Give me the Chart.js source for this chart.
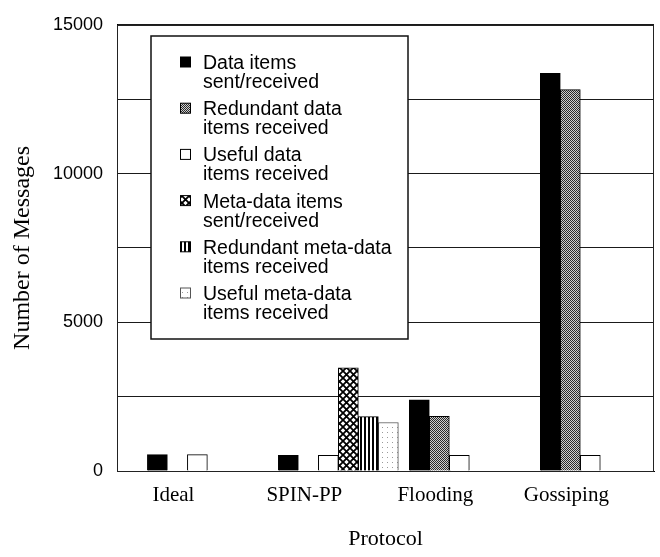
<!DOCTYPE html>
<html>
<head>
<meta charset="utf-8">
<script src="https://cdn.jsdelivr.net/npm/chart.js@4.4.1/dist/chart.umd.min.js"></script>
<style>
html,body{margin:0;padding:0;background:#fff;}
#wrap{width:660px;height:557px;position:relative;}
</style>
</head>
<body>
<div id="wrap"><canvas id="c" width="660" height="557"></canvas></div>
<script>
// ---- data ----
const categories = ['Ideal', 'SPIN-PP', 'Flooding', 'Gossiping'];
const seriesNames = [
  'Data items\nsent/received',
  'Redundant data\nitems received',
  'Useful data\nitems received',
  'Meta-data items\nsent/received',
  'Redundant meta-data\nitems received',
  'Useful meta-data\nitems received'
];
const dataSent      = [550, 530, 2390, 13370];
const redundantData = [null, null, 1840, 12820];
const usefulData    = [550, 530, 530, 530];
const metaSent      = [null, 3470, null, null];
const redundantMeta = [null, 1830, null, null];
const usefulMeta    = [null, 1630, null, null];
const yTickLabels   = [0, 5000, 10000, 15000];

// ---- fill patterns ----
function pattern(w, h, draw) {
  const c = document.createElement('canvas');
  c.width = w; c.height = h;
  const g = c.getContext('2d');
  g.fillStyle = '#fff'; g.fillRect(0, 0, w, h);
  draw(g, w, h);
  return document.createElement('canvas').getContext('2d').createPattern(c, 'repeat');
}
const solidBlack = '#000';
const stipple = pattern(2, 2, g => { g.fillStyle = '#2a2a2a'; g.fillRect(0,0,1,1); g.fillRect(1,1,1,1); g.fillStyle='#cfcfcf'; g.fillRect(1,0,1,1); g.fillRect(0,1,1,1); });
const whiteFill = '#fff';
const crossHatch = pattern(7, 7, (g, w, h) => {
  g.strokeStyle = '#000'; g.lineWidth = 1.8;
  g.beginPath();
  g.moveTo(-1, -1); g.lineTo(w + 1, h + 1);
  g.moveTo(w + 1, -1); g.lineTo(-1, h + 1);
  g.stroke();
});
const vStripes = pattern(4, 4, g => { g.fillStyle = '#000'; g.fillRect(0, 0, 2, 4); });
const sparseDots = pattern(5, 5, g => { g.fillStyle = '#9a9a9a'; g.fillRect(2, 2, 1, 1); });

const fills   = [solidBlack, stipple, whiteFill, crossHatch, vStripes, sparseDots];
const borders = ['#000', '#000', '#000', '#000', '#000', '#555'];
const values  = [dataSent, redundantData, usefulData, metaSent, redundantMeta, usefulMeta];

const datasets = values.map((vals, i) => ({
  label: seriesNames[i],
  data: vals,
  backgroundColor: fills[i],
  borderColor: borders[i],
  borderWidth: 1,
  borderSkipped: 'bottom',
  barThickness: 20
}));

// ---- legend box drawn inside the plot ----
const boxLegend = {
  id: 'boxLegend',
  afterDraw(chart) {
    const ctx = chart.ctx;
    const x0 = 151, y0 = 36, x1 = 408, y1 = 339;
    ctx.save();
    ctx.fillStyle = '#fff';
    ctx.fillRect(x0, y0, x1 - x0, y1 - y0);
    ctx.strokeStyle = '#111';
    ctx.lineWidth = 1.5;
    ctx.strokeRect(x0, y0, x1 - x0, y1 - y0);
    ctx.font = '19.5px "Liberation Sans", Arial, sans-serif';
    ctx.textBaseline = 'alphabetic';
    ctx.textAlign = 'left';
    chart.data.datasets.forEach((ds, i) => {
      const cy = 62 + i * 46.2;
      ctx.fillStyle = ds.backgroundColor;
      ctx.fillRect(180.5, cy - 5, 10, 10);
      ctx.strokeStyle = ds.borderColor;
      ctx.lineWidth = 1;
      ctx.strokeRect(180.5, cy - 5, 10, 10);
      ctx.fillStyle = '#000';
      ds.label.split('\n').forEach((line, k) => {
        ctx.fillText(line, 203, cy + 7 + k * 19);
      });
    });
    ctx.restore();
  }
};

// ---- frame around the plot area ----
const frame = {
  id: 'frame',
  beforeDatasetsDraw(chart) {
    const a = chart.chartArea, ctx = chart.ctx;
    ctx.save();
    ctx.strokeStyle = '#222';
    ctx.lineWidth = 1;
    ctx.strokeRect(Math.round(a.left) + 0.5, Math.round(a.top) + 0.5,
                   Math.round(a.right - a.left) - 1, Math.round(a.bottom - a.top));
    ctx.restore();
  }
};

new Chart(document.getElementById('c'), {
  type: 'bar',
  data: { labels: categories.map((_, i) => i), datasets },
  options: {
    responsive: false,
    animation: false,
    devicePixelRatio: 1,
    layout: { padding: { left: 0, right: 6, top: 14, bottom: 0 } },
    plugins: { legend: { display: false }, tooltip: { enabled: false } },
    scales: {
      x: {
        type: 'linear',
        offset: false,
        min: -0.69,
        max: 3.41,
        afterBuildTicks: s => { s.ticks = categories.map((_, i) => ({ value: i })); },
        afterFit: s => { s.height = 86; },
        grid: { display: false, drawTicks: false, offset: false },
        border: { display: true, color: '#000', width: 1 },
        ticks: {
          autoSkip: false,
          maxRotation: 0,
          padding: 12,
          labelOffset: -34,
          color: '#000',
          font: { family: '"Liberation Serif", "Times New Roman", serif', size: 21 },
          callback: v => categories[v] ?? ''
        },
        title: {
          display: true,
          text: 'Protocol',
          color: '#000',
          font: { family: '"Liberation Serif", "Times New Roman", serif', size: 22 },
          padding: { top: 0, bottom: 5 }
        }
      },
      y: {
        min: 0,
        max: 15000,
        afterFit: s => { s.width = 117; },
        grid: { color: '#1a1a1a', lineWidth: 1, drawTicks: false },
        border: { display: true, color: '#000', width: 1 },
        ticks: {
          stepSize: 2500,
          padding: 14,
          color: '#000',
          font: { family: '"Liberation Sans", Arial, sans-serif', size: 18 },
          callback: v => yTickLabels.includes(v) ? String(v) : ''
        },
        title: {
          display: true,
          text: 'Number of Messages',
          color: '#000',
          font: { family: '"Liberation Serif", "Times New Roman", serif', size: 24 },
          padding: { top: 8, bottom: 0 }
        }
      }
    }
  },
  plugins: [frame, boxLegend]
});
</script>
</body>
</html>
